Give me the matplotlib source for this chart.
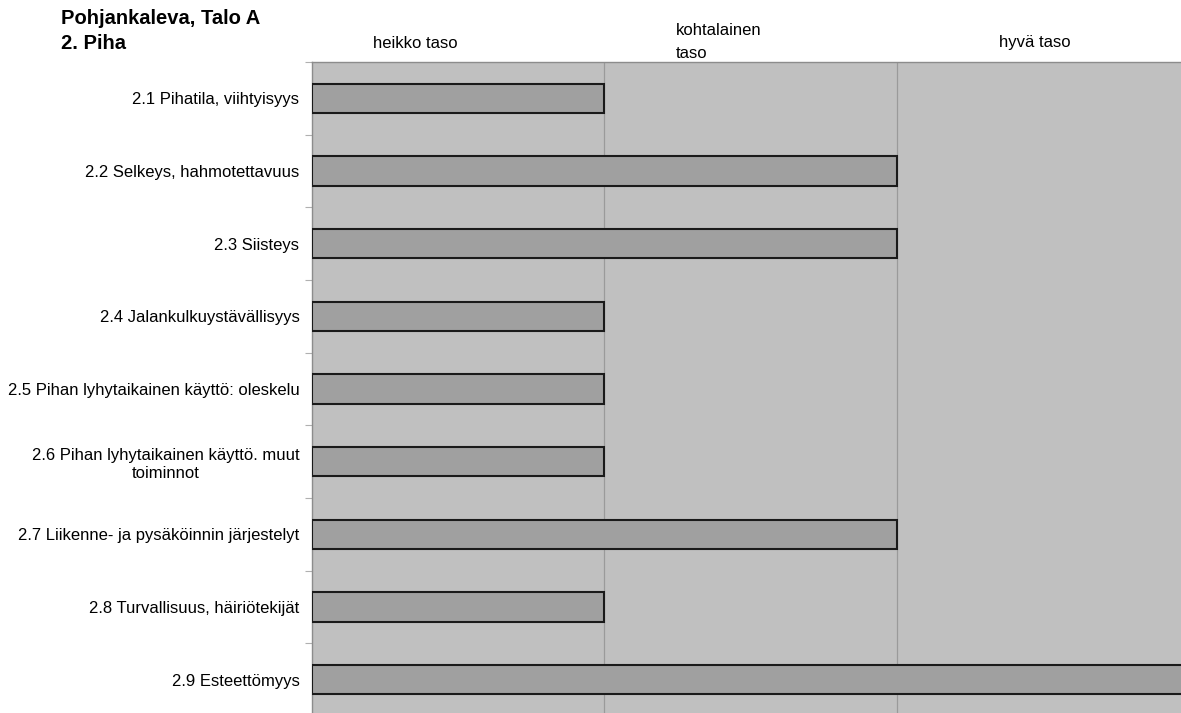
import numpy as np
import matplotlib.pyplot as plt

plt.rcParams['font.family'] = ['Liberation Sans', 'DejaVu Sans']

categories = [
    '2.1 Pihatila, viihtyisyys',
    '2.2 Selkeys, hahmotettavuus',
    '2.3 Siisteys',
    '2.4 Jalankulkuystävällisyys',
    '2.5 Pihan lyhytaikainen käyttö: oleskelu',
    '2.6 Pihan lyhytaikainen käyttö. muut\ntoiminnot',
    '2.7 Liikenne- ja pysäköinnin järjestelyt',
    '2.8 Turvallisuus, häiriötekijät',
    '2.9 Esteettömyys',
]
scores = [1, 2, 2, 1, 1, 1, 2, 1, 3]
levels = ['heikko taso', 'kohtalainen\ntaso', 'hyvä taso']

fig = plt.figure(figsize=(11.81, 7.13), dpi=100)
ax = fig.add_axes([312 / 1181, -3 / 713, 877 / 1181, 654 / 713])
ax.set_facecolor('#c0c0c0')

y = np.arange(len(categories))
ax.barh(y, scores, height=0.4, color='#a0a0a0', edgecolor='#1a1a1a',
        linewidth=1.5, zorder=3)

ax.set_xlim(0, 3)
ax.set_ylim(len(categories) - 0.5, -0.5)

# vertical separators between the level zones
for xv in [1, 2]:
    ax.axvline(xv, color='#9a9a9a', lw=0.9, zorder=1)

ax.set_xticks([])
ax.set_yticks(y)
ax.set_yticklabels(categories, fontsize=12)
ax.tick_params(axis='y', length=0, pad=9)
for lbl in ax.get_yticklabels():
    lbl.set_multialignment('center')

# small ticks at the category boundaries
ax.set_yticks(np.arange(len(categories) + 1) - 0.5, minor=True)
ax.tick_params(axis='y', which='minor', length=5, color='#b0b0b0', width=0.8)

for side in ['right', 'bottom']:
    ax.spines[side].set_visible(False)
for side in ['left', 'top']:
    ax.spines[side].set_color('#8c8c8c')
    ax.spines[side].set_linewidth(1.0)

# level headers above the plot
fig.text(415 / 1181, 1 - 43 / 713, levels[0], fontsize=12, ha='center', va='center')
fig.text(676 / 1181, 1 - 42 / 713, levels[1], fontsize=12, ha='left', va='center',
         linespacing=1.6)
fig.text(1035 / 1181, 1 - 42 / 713, levels[2], fontsize=12, ha='center', va='center')

fig.text(61 / 1181, 1 - 9 / 713, 'Pohjankaleva, Talo A\n2. Piha', fontsize=14.5,
         fontweight='bold', ha='left', va='top', linespacing=1.4)

fig.savefig('out.png', dpi=100)
